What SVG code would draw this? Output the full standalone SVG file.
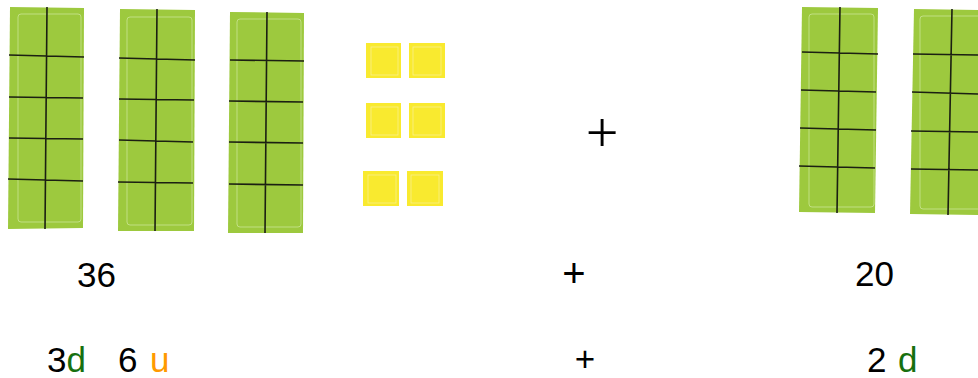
<svg xmlns="http://www.w3.org/2000/svg" width="978" height="378" viewBox="0 0 978 378">
<style>
.bar{fill:#9dc93e}
.grid{stroke:#1b1f12;stroke-width:1.6;fill:none}
.inner{fill:none;stroke:#d9efb0;stroke-width:1;opacity:0.6}
.sq{fill:#f9ea2f}
.sqi{fill:none;stroke:#fbf08a;stroke-width:0.8}
.t{font-family:"Liberation Sans",Arial,sans-serif;font-size:35px;fill:#000}
.p{font-size:40px}
.g{fill:#17700f}
.o{fill:#ff9a00}
</style>
<rect width="978" height="378" fill="#fff"/>
<g id="bar1">
<polygon class="bar" points="10,7 84,8 83,228 8,229"/>
<rect class="inner" x="18" y="14" width="63" height="208" rx="3"/>
<path class="grid" d="M47,7 L45,229 M9,55 L84,57 M9,97 L83,98 M9,138 L83,139 M8,179 L83,181"/>
</g>
<g id="bar2">
<polygon class="bar" points="120,9 195,10 194,231 118,231"/>
<rect class="inner" x="127" y="17" width="65" height="208" rx="3"/>
<path class="grid" d="M157,9 L155,231 M119,58 L195,60 M119,99 L194,100 M119,140 L193,142 M118,182 L193,183"/>
</g>
<g id="bar3">
<polygon class="bar" points="230,12 304,13 303,233 228,233"/>
<rect class="inner" x="237" y="19" width="64" height="208" rx="3"/>
<path class="grid" d="M267,12 L265,233 M230,60 L304,61 M229,101 L303,102 M229,142 L303,143 M229,184 L303,185"/>
</g>
<g id="units">
<rect class="sq" x="366" y="43" width="35" height="35"/>
<rect class="sq" x="409" y="43" width="36" height="35"/>
<rect class="sq" x="366" y="103" width="35" height="35"/>
<rect class="sq" x="409" y="103" width="36" height="35"/>
<rect class="sq" x="363" y="171" width="36" height="35"/>
<rect class="sq" x="407" y="171" width="36" height="35"/>
<rect class="sqi" x="371" y="47" width="27" height="28"/>
<rect class="sqi" x="413" y="47" width="28" height="28"/>
<rect class="sqi" x="371" y="107" width="27" height="28"/>
<rect class="sqi" x="413" y="107" width="28" height="28"/>
<rect class="sqi" x="368" y="175" width="28" height="28"/>
<rect class="sqi" x="411" y="175" width="28" height="28"/>
</g>
<g id="plus-big">
<text x="602" y="152" text-anchor="middle" font-family="Liberation Serif,'Times New Roman',serif" font-size="58" fill="#000">+</text>
</g>
<g id="bar4">
<polygon class="bar" points="802,7 878,8 875,213 799,212"/>
<rect class="inner" x="809" y="14" width="65" height="193" rx="3"/>
<path class="grid" d="M840,7 L837,213 M802,52 L878,54 M801,90 L876,92 M800,128 L876,130 M799,166 L875,168"/>
</g>
<g id="bar5">
<polygon class="bar" points="914,9 978,10 978,215 910,214"/>
<rect class="inner" x="920" y="16" width="62" height="193" rx="3"/>
<path class="grid" d="M952,9 L948,215 M913,54 L978,55 M912,92 L978,94 M911,131 L978,132 M911,169 L978,170"/>
</g>
<g id="labels">
<text class="t p" x="574" y="287" text-anchor="middle">+</text>
<text class="t" x="77" y="287">36</text>
<text class="t" x="855" y="286">20</text>
<text class="t" x="47" y="372">3<tspan class="g">d</tspan></text>
<text class="t" x="118" y="372">6</text>
<text class="t o" x="150" y="372">u</text>
<text class="t" x="585" y="371" text-anchor="middle" font-size="36">+</text>
<text class="t" x="867" y="372">2</text>
<text class="t g" x="898" y="372">d</text>
</g>
</svg>
